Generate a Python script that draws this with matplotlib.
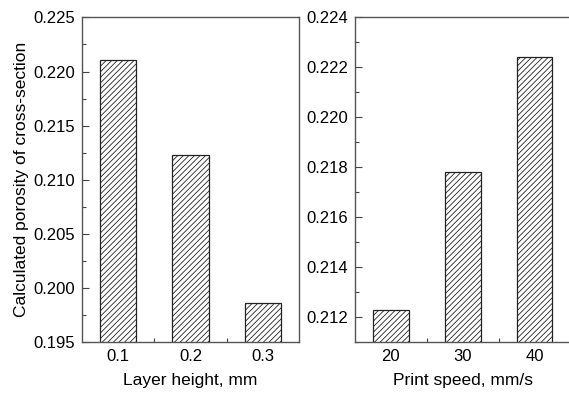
import matplotlib
matplotlib.use("Agg")
import matplotlib.pyplot as plt
from matplotlib.ticker import MultipleLocator, FixedLocator

# ----------------------------------------------------------------------
# Data
# ----------------------------------------------------------------------
layer_labels = ["0.1", "0.2", "0.3"]
layer_porosity = [0.2211, 0.2123, 0.1986]

speed_labels = ["20", "30", "40"]
speed_porosity = [0.2123, 0.2178, 0.2224]

plt.rcParams["font.family"] = ["Liberation Sans", "DejaVu Sans"]
plt.rcParams["hatch.linewidth"] = 0.6
plt.rcParams["hatch.color"] = "#444444"

fig = plt.figure(figsize=(5.69, 3.94), dpi=100)
ax1 = fig.add_axes([0.1441, 0.131, 0.3814, 0.825])
ax2 = fig.add_axes([0.6239, 0.131, 0.3785, 0.825])


def draw_panel(ax, labels, values, ylim, major, xlabel):
    pos = list(range(1, len(values) + 1))
    ax.bar(pos, values, width=0.5, bottom=0, color="white",
           edgecolor="#222222", linewidth=0.9, hatch="//////", zorder=2)
    ax.set_xlim(0.5, len(values) + 0.5)
    ax.set_ylim(*ylim)
    ax.set_xticks(pos)
    ax.set_xticklabels(labels)
    ax.xaxis.set_minor_locator(FixedLocator([p + 0.5 for p in pos[:-1]]))
    ax.yaxis.set_major_locator(MultipleLocator(major))
    ax.yaxis.set_minor_locator(MultipleLocator(major / 2))
    ax.tick_params(which="both", direction="in", top=False, right=False,
                   labelsize=12, color="#444444", width=0.8)
    ax.tick_params(which="major", length=5, pad=5)
    ax.tick_params(which="minor", length=3)
    for s in ax.spines.values():
        s.set_color("#555555")
        s.set_linewidth(1.0)
    ax.set_xlabel(xlabel, fontsize=12.5, labelpad=6)


draw_panel(ax1, layer_labels, layer_porosity, (0.195, 0.225), 0.005,
           "Layer height, mm")
draw_panel(ax2, speed_labels, speed_porosity, (0.211, 0.224), 0.002,
           "Print speed, mm/s")

ax1.yaxis.set_major_formatter(plt.FormatStrFormatter("%.3f"))
ax2.yaxis.set_major_formatter(plt.FormatStrFormatter("%.3f"))
ax1.set_ylabel("Calculated porosity of cross-section", fontsize=12.5,
               labelpad=3)

fig.savefig("out.png", dpi=100)
